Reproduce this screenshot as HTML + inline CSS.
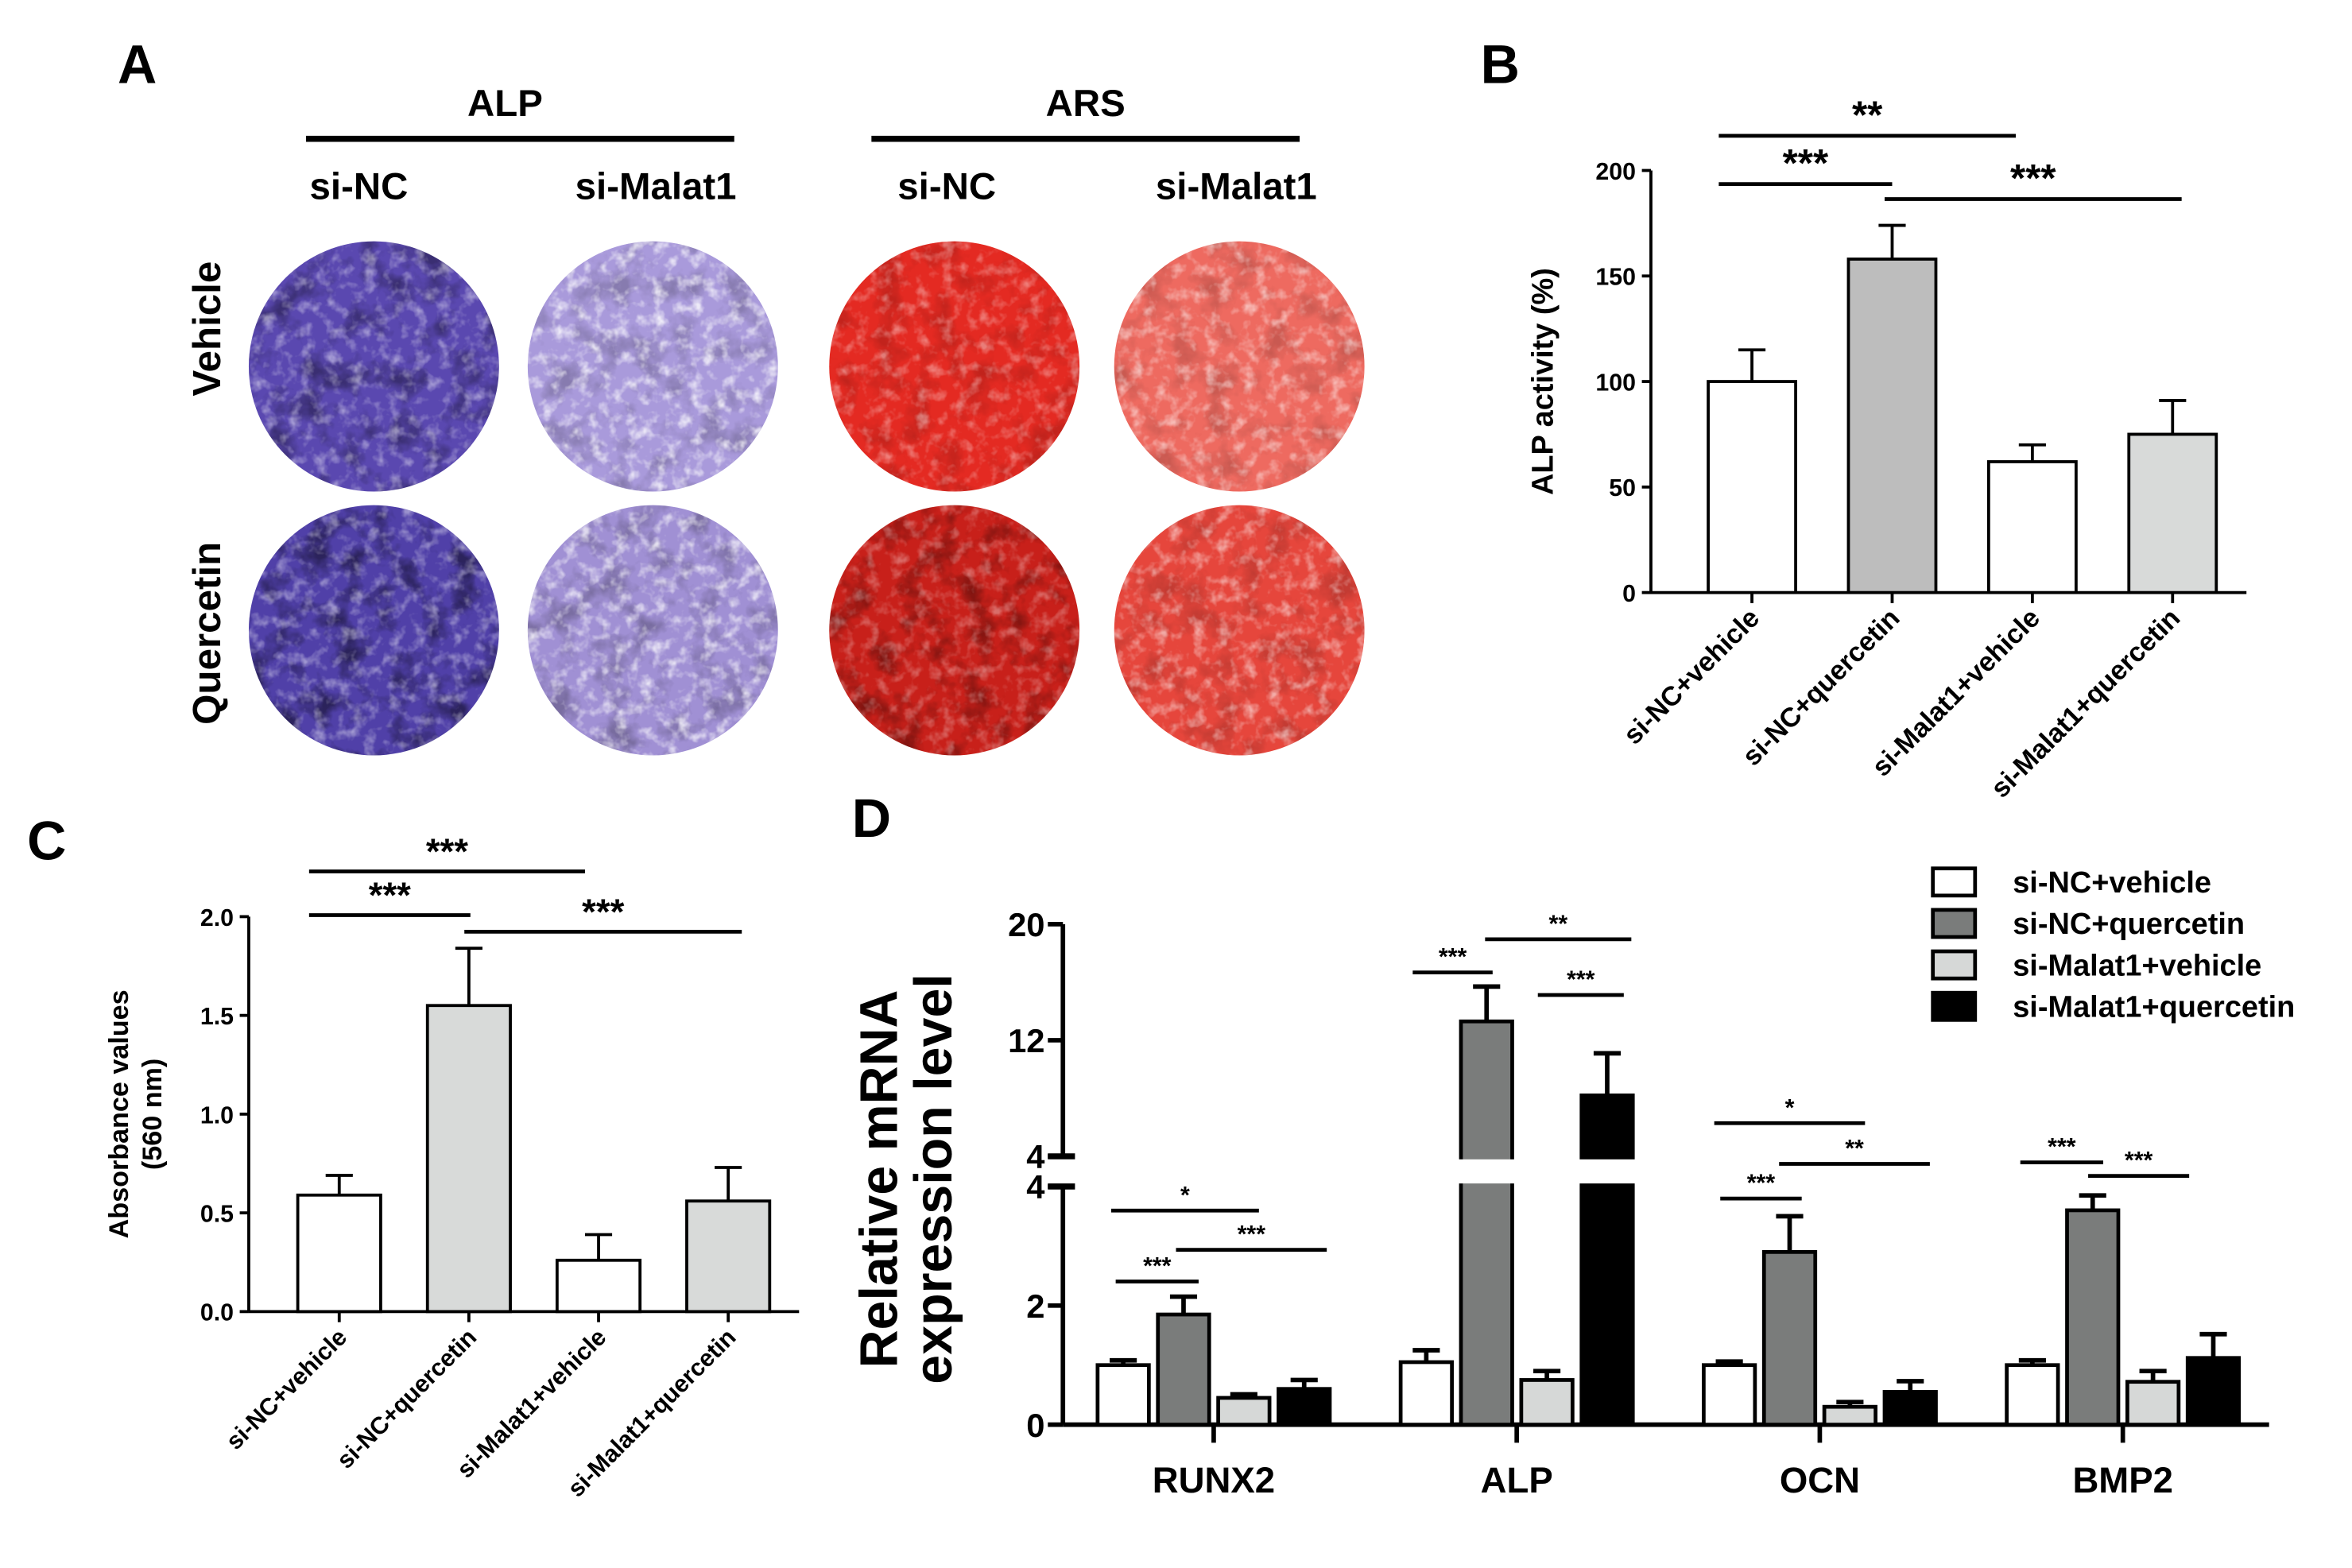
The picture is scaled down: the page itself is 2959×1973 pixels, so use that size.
<!DOCTYPE html>
<html><head><meta charset="utf-8"><style>
html,body{margin:0;padding:0;background:#fff}
svg{display:block}
text{font-family:"Liberation Sans",Arial,sans-serif;font-weight:bold;fill:#000}
</style></head><body>
<svg id="fig" xmlns="http://www.w3.org/2000/svg" width="2959" height="1973" viewBox="0 0 1560 1040">
<defs>
<filter id="noiseD" x="0" y="0" width="100%" height="100%">
<feTurbulence type="fractalNoise" baseFrequency="0.05" numOctaves="4" seed="11"/>
<feColorMatrix type="matrix" values="0 0 0 0 0  0 0 0 0 0  0 0 0 0 0  0 0 0 -3 1.6"/>
</filter>
<filter id="noiseW" x="0" y="0" width="100%" height="100%">
<feTurbulence type="fractalNoise" baseFrequency="0.12" numOctaves="3" seed="7"/>
<feColorMatrix type="matrix" values="0 0 0 0 1  0 0 0 0 1  0 0 0 0 1  0 0 0 -2.5 1.3"/>
</filter>
</defs>
<g id="panelA"></g>
<g id="panelB"></g>
<g id="panelC"></g>
<g id="panelD"></g>
</svg>
<script>
// ---- data ----
const groupsBC = ["si-NC+vehicle","si-NC+quercetin","si-Malat1+vehicle","si-Malat1+quercetin"];
const bValues = [100,158,62,75];
const bErrors = [15,16,8,16];
const bTicks = [0,50,100,150,200];
const cValues = [0.59,1.55,0.26,0.56];
const cErrors = [0.10,0.29,0.13,0.17];
const cTicks = [0.0,0.5,1.0,1.5,2.0];
const cTickLabels = ["0.0","0.5","1.0","1.5","2.0"];
const genes = ["RUNX2","ALP","OCN","BMP2"];
const dVehNC = [1.0,1.05,1.0,1.0];
const dQuerNC = [1.85,13.3,2.9,3.6];
const dVehM = [0.45,0.75,0.3,0.72];
const dQuerM = [0.6,8.2,0.55,1.12];
const dErrVehNC = [0.08,0.2,0.06,0.08];
const dErrQuerNC = [0.3,2.4,0.6,0.25];
const dErrVehM = [0.06,0.15,0.08,0.18];
const dErrQuerM = [0.15,2.9,0.18,0.4];
const dTicksLow = [0,2,4];
const dTicksHigh = [4,12,20];

const NS="http://www.w3.org/2000/svg";
function mk(parent,tag,attrs,txt){const e=document.createElementNS(NS,tag);for(const k in attrs)e.setAttribute(k,attrs[k]);if(txt!==undefined)e.textContent=txt;parent.appendChild(e);return e;}

// ---- Panel A ----
const A=document.getElementById('panelA');
let t;
t=mk(A,'text',{x:78,y:55,'font-size':36},'A');


t=mk(A,'text',{x:335,y:77,'font-size':25,'text-anchor':'middle'},'ALP');


t=mk(A,'text',{x:720,y:77,'font-size':25,'text-anchor':'middle'},'ARS');


mk(A,'line',{x1:203,y1:92,x2:487,y2:92,stroke:'#000','stroke-width':4});
mk(A,'line',{x1:578,y1:92,x2:862,y2:92,stroke:'#000','stroke-width':4});
const colLab=[[238,'si-NC'],[435,'si-Malat1'],[628,'si-NC'],[820,'si-Malat1']];
colLab.forEach(c=>{const e=mk(A,'text',{x:c[0],y:132,'font-size':25,'text-anchor':'middle'},c[1]);

});
t=mk(A,'text',{x:0,y:0,'font-size':26,'text-anchor':'middle',transform:'translate(146,218) rotate(-90)'},'Vehicle');


t=mk(A,'text',{x:0,y:0,'font-size':26,'text-anchor':'middle',transform:'translate(146,420) rotate(-90)'},'Quercetin');


const wells=[[248,243,'#5a48b0',0.45,0.35],[433,243,'#a99adb',0.8,0.2],[633,243,'#e42a22',0.4,0.15],[822,243,'#ee6a60',0.55,0.15],
[248,418,'#5040a8',0.45,0.45],[433,418,'#a090d4',0.75,0.25],[633,418,'#c8201a',0.35,0.35],[822,418,'#e6463c',0.55,0.15]];
wells.forEach((w,i)=>{
  const cp=mk(A.ownerSVGElement.querySelector('defs'),'clipPath',{id:'cw'+i});
  mk(cp,'circle',{cx:w[0],cy:w[1],r:83});
  const g=mk(A,'g',{'clip-path':'url(#cw'+i+')'});
  
  
  mk(g,'rect',{x:w[0]-84,y:w[1]-84,width:168,height:168,fill:w[2]});
  mk(g,'rect',{x:w[0]-84,y:w[1]-84,width:168,height:168,filter:'url(#noiseD)',opacity:w[4]});
  mk(g,'rect',{x:w[0]-84,y:w[1]-84,width:168,height:168,filter:'url(#noiseW)',opacity:w[3]});
});

// ---- helper for bar charts ----
function barChart(P,opt){
  const y=v=>opt.y0-(v-opt.min)/(opt.max-opt.min)*(opt.y0-opt.ytop);
  mk(P,'line',{x1:opt.ax,y1:opt.ytop,x2:opt.ax,y2:opt.y0,stroke:'#000','stroke-width':2});
  mk(P,'line',{x1:opt.ax,y1:opt.y0,x2:opt.xend,y2:opt.y0,stroke:'#000','stroke-width':2});
  opt.ticks.forEach((tv,i)=>{
    mk(P,'line',{x1:opt.ax-6,y1:y(tv),x2:opt.ax,y2:y(tv),stroke:'#000','stroke-width':2});
    const e=mk(P,'text',{x:opt.ax-10,y:y(tv)+6,'font-size':16,'text-anchor':'end'},opt.tickLabels[i]);
    
    
  });
  opt.values.forEach((v,i)=>{
    const cx=opt.x0+i*opt.dx;
    mk(P,'line',{x1:cx,y1:y(v),x2:cx,y2:y(v+opt.errors[i]),stroke:'#000','stroke-width':2});
    mk(P,'line',{x1:cx-9,y1:y(v+opt.errors[i]),x2:cx+9,y2:y(v+opt.errors[i]),stroke:'#000','stroke-width':2});
    const r=mk(P,'rect',{x:cx-opt.bw/2,y:y(v),width:opt.bw,height:opt.y0-y(v),fill:opt.colors[i],stroke:'#000','stroke-width':2});
    
    
    mk(P,'line',{x1:cx,y1:opt.y0,x2:cx,y2:opt.y0+7,stroke:'#000','stroke-width':2});
    const e=mk(P,'text',{x:0,y:0,'font-size':opt.lfs,'text-anchor':'end',transform:`translate(${cx+6},${opt.y0+18}) rotate(-45)`},groupsBC[i]);
    
    
  });
  const yt=mk(P,'text',{x:0,y:0,'font-size':opt.tfs,'text-anchor':'middle',transform:`translate(${opt.titleX},${(opt.y0+opt.ytop)/2}) rotate(-90)`},opt.title);
  
  
  if(opt.title2){const y2=mk(P,'text',{x:0,y:0,'font-size':opt.tfs,'text-anchor':'middle',transform:`translate(${opt.titleX+22},${(opt.y0+opt.ytop)/2}) rotate(-90)`},opt.title2);
  
  }
}
function sig(P,x1,x2,yl,label,fs){
  mk(P,'line',{x1:x1,y1:yl,x2:x2,y2:yl,stroke:'#000','stroke-width':2.5});
  const e=mk(P,'text',{x:(x1+x2)/2,y:yl-5,'font-size':fs,'text-anchor':'middle'},label);
  
  
}

// ---- Panel B ----
const B=document.getElementById('panelB');
t=mk(B,'text',{x:982,y:55,'font-size':36},'B');


barChart(B,{ax:1095,y0:393,ytop:113,min:0,max:200,xend:1490,x0:1162,dx:93,bw:58,values:bValues,errors:bErrors,
 ticks:bTicks,tickLabels:bTicks.map(String),colors:['#fff','#bdbdbd','#fff','#d8dad9'],lfs:18,tfs:20,titleX:1030,title:'ALP activity (%)'});
sig(B,1140,1337,90,'**',26);
sig(B,1140,1255,122,'***',26);
sig(B,1250,1447,132,'***',26);

// ---- Panel C ----
const C=document.getElementById('panelC');
t=mk(C,'text',{x:18,y:570,'font-size':36},'C');


barChart(C,{ax:165,y0:870,ytop:608,min:0,max:2,xend:530,x0:225,dx:86,bw:55,values:cValues,errors:cErrors,
 ticks:cTicks,tickLabels:cTickLabels,colors:['#fff','#d8dad9','#fff','#d8dad9'],lfs:16,tfs:18,titleX:85,title:'Absorbance values',title2:'(560 nm)'});
sig(C,205,388,578,'***',24);
sig(C,205,312,607,'***',24);
sig(C,308,492,618,'***',24);

// ---- Panel D ----
const D=document.getElementById('panelD');
t=mk(D,'text',{x:565,y:555,'font-size':36},'D');


const ax=705,y0=945,yLowTop=787,yHighBot=767,yTop=613;
function yD(v){ if(v<=4) return y0-v*(y0-yLowTop)/4; return yHighBot-(v-4)*(yHighBot-yTop)/16; }
mk(D,'line',{x1:ax,y1:yTop,x2:ax,y2:yHighBot,stroke:'#000','stroke-width':3});
mk(D,'line',{x1:ax,y1:yLowTop,x2:ax,y2:y0,stroke:'#000','stroke-width':3});
mk(D,'line',{x1:ax,y1:y0,x2:1505,y2:y0,stroke:'#000','stroke-width':3});
dTicksLow.forEach(v=>{mk(D,'line',{x1:ax-10,y1:yD(v),x2:ax,y2:yD(v),stroke:'#000','stroke-width':3});
 const e=mk(D,'text',{x:ax-12,y:yD(v)+8,'font-size':22,'text-anchor':'end'},String(v));
 
 });
dTicksHigh.forEach(v=>{const yy=v==4?yHighBot:yD(v);mk(D,'line',{x1:ax-10,y1:yy,x2:ax,y2:yy,stroke:'#000','stroke-width':3});
 const e=mk(D,'text',{x:ax-12,y:yy+8,'font-size':22,'text-anchor':'end'},String(v));
 
 });
t=mk(D,'text',{x:0,y:0,'font-size':35,'text-anchor':'middle',transform:'translate(595,782) rotate(-90)'},'Relative mRNA');


t=mk(D,'text',{x:0,y:0,'font-size':35,'text-anchor':'middle',transform:'translate(631,782) rotate(-90)'},'expression level');


const series=[dVehNC,dQuerNC,dVehM,dQuerM], errs=[dErrVehNC,dErrQuerNC,dErrVehM,dErrQuerM];
const dColors=['#fff','#7a7c7b','#d6d8d7','#000'];
const sNames=['si-NC+vehicle','si-NC+quercetin','si-Malat1+vehicle','si-Malat1+quercetin'];
genes.forEach((gname,gi)=>{
  const gc=805+gi*201;
  series.forEach((s,si)=>{
    const cx=gc-60+si*40, v=s[gi], e=errs[si][gi];
    mk(D,'line',{x1:cx,y1:yD(v),x2:cx,y2:yD(v+e),stroke:'#000','stroke-width':3});
    mk(D,'line',{x1:cx-9,y1:yD(v+e),x2:cx+9,y2:yD(v+e),stroke:'#000','stroke-width':3});
    const r=mk(D,'rect',{x:cx-17,y:yD(v),width:34,height:y0-yD(v),fill:dColors[si],stroke:'#000','stroke-width':2.5});
    
    
  });
  mk(D,'line',{x1:gc,y1:y0,x2:gc,y2:y0+12,stroke:'#000','stroke-width':3});
  const e=mk(D,'text',{x:gc,y:y0+45,'font-size':24,'text-anchor':'middle'},gname);
  
  
});
// axis break gap
mk(D,'rect',{x:ax-12,y:yHighBot+2,width:800,height:yLowTop-yHighBot-4,fill:'#fff'});
mk(D,'line',{x1:ax-10,y1:yLowTop,x2:ax+8,y2:yLowTop,stroke:'#000','stroke-width':4});
mk(D,'line',{x1:ax-10,y1:yHighBot,x2:ax+8,y2:yHighBot,stroke:'#000','stroke-width':4});
sig(D,737,835,803,'*',16);
sig(D,780,880,829,'***',16);
sig(D,740,795,850,'***',16);
sig(D,937,990,645,'***',16);
sig(D,985,1082,623,'**',16);
sig(D,1020,1077,660,'***',16);
sig(D,1137,1237,745,'*',16);
sig(D,1180,1280,772,'**',16);
sig(D,1141,1195,795,'***',16);
sig(D,1340,1395,771,'***',16);
sig(D,1385,1452,780,'***',16);
// legend
sNames.forEach((n,i)=>{
  const ly=585+i*27.5;
  const g=mk(D,'g',{});
  
  
  mk(g,'rect',{x:1282,y:ly-9,width:28,height:18,fill:dColors[i],stroke:'#000','stroke-width':2.5});
  mk(g,'text',{x:1335,y:ly+7,'font-size':20},n);
});
</script>
</body></html>
